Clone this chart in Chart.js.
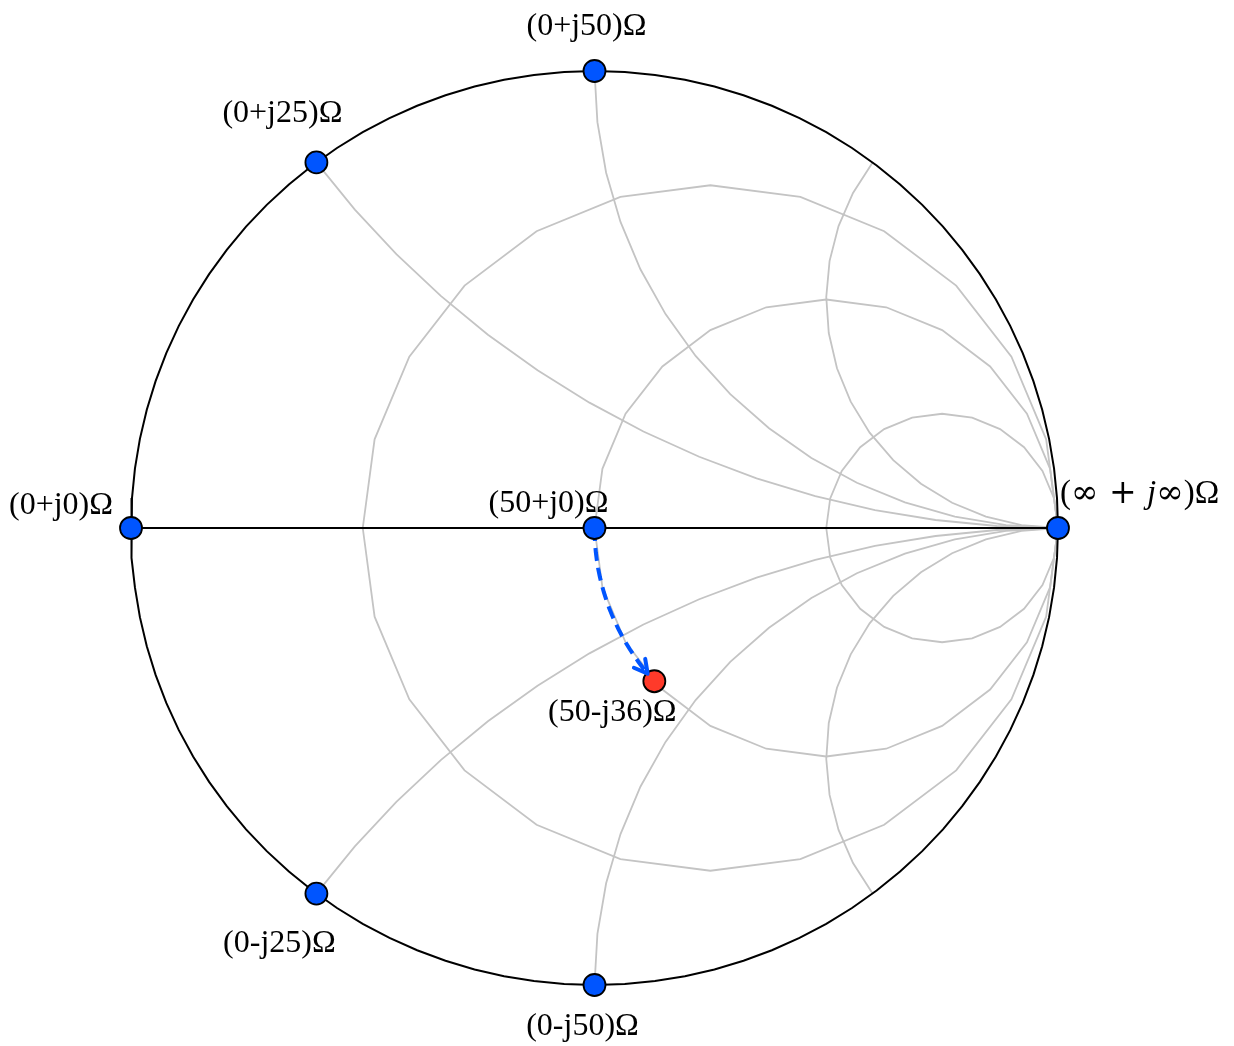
<!DOCTYPE html>
<html>
<head>
<meta charset="utf-8">
<script src="https://cdn.jsdelivr.net/npm/chart.js@4.4.1/dist/chart.umd.min.js"></script>
<style>
  html, body { margin: 0; padding: 0; background: #fff; }
  canvas { display: block; }
</style>
</head>
<body>
<canvas id="smithChart" width="1234" height="1046"></canvas>
<script>
// impedances in ohms, Z0 = 50
const z0 = 50;
const markerLabels = ['(0+j0)Ω', '(0+j25)Ω', '(0+j50)Ω', '(50+j0)Ω', '(0-j25)Ω', '(0-j50)Ω', '(∞ + j∞)Ω'];
const markerR = [0, 0, 0, 50, 0, 0, Infinity];
const markerX = [0, 25, 50, 0, -25, -50, Infinity];

// load point (label reads 50-j36, dot sits a bit lower on the r=1 circle)
const loadLabel = '(50-j36)Ω';
const loadR = 50;
const loadX = -38.5;
const arrowEndX = -36;

// grid values (ohms)
const gridResistances = [50 / 3, 50, 150];
const gridReactances = [25, 50, 100, -25, -50, -100];

function gamma(r, x) {
    if (!isFinite(r) || !isFinite(x)) return { x: 1, y: 0 };
    const a = r / z0, b = x / z0;
    // (z-1)/(z+1)
    const den = (a + 1) * (a + 1) + b * b;
    return { x: (a * a + b * b - 1) / den, y: (2 * b) / den };
}

function resistanceCircle(rOhm) {
    const r = rOhm / z0;
    const cx = r / (1 + r), rad = 1 / (1 + r);
    const pts = [];
    for (let k = 0; k <= 24; k++) {
        const a = Math.PI + k * Math.PI * 2 / 24;
        pts.push({ x: cx + rad * Math.cos(a), y: rad * Math.sin(a) });
    }
    return pts;
}

function reactanceArc(xOhm) {
    const xn = Math.abs(xOhm) / z0;
    const sign = xOhm < 0 ? -1 : 1;
    const cy = 1 / xn, rad = 1 / xn;
    const p = gamma(0, Math.abs(xOhm));
    let a0 = Math.atan2(p.y - cy, p.x - 1);
    if (a0 < Math.PI / 2) a0 += Math.PI * 2;
    const a1 = Math.PI * 1.5;
    const steps = 14;
    const pts = [];
    for (let k = 0; k <= steps; k++) {
        const a = a0 + (a1 - a0) * k / steps;
        pts.push({ x: 1 + rad * Math.cos(a), y: sign * (cy + rad * Math.sin(a)) });
    }
    return pts;
}

function outerCircle() {
    const pts = [];
    for (let k = 0; k <= 96; k++) {
        const a = k * Math.PI * 2 / 96;
        pts.push({ x: Math.cos(a), y: Math.sin(a) });
    }
    return pts;
}

function arrowPath() {
    const pts = [];
    for (let k = 0; k <= 20; k++) {
        pts.push(gamma(loadR, arrowEndX * k / 20));
    }
    return pts;
}

const gridColor = '#c4c4c4';
const blue = '#0055ff';
const red = '#ff3a2a';

const datasets = [];
gridResistances.forEach(r => datasets.push({
    data: resistanceCircle(r), showLine: true, pointRadius: 0,
    borderColor: gridColor, borderWidth: 1.8, tension: 0, clip: false, order: 4
}));
gridReactances.forEach(x => datasets.push({
    data: reactanceArc(x), showLine: true, pointRadius: 0,
    borderColor: gridColor, borderWidth: 1.8, tension: 0, clip: false, order: 4
}));
datasets.push({
    data: outerCircle(), showLine: true, pointRadius: 0,
    borderColor: '#000', borderWidth: 2, tension: 0, clip: false, order: 3
});
datasets.push({
    data: [gamma(0, 0), gamma(Infinity, 0)], showLine: true, pointRadius: 0,
    borderColor: '#000', borderWidth: 2, clip: false, order: 3
});
datasets.push({
    id: 'arrow',
    data: arrowPath(), showLine: true, pointRadius: 0,
    borderColor: blue, borderWidth: 4, borderDash: [13, 7], tension: 0, clip: false, order: 2
});
datasets.push({
    data: markerR.map((r, i) => gamma(r, markerX[i])),
    showLine: false, pointRadius: 11, pointBackgroundColor: blue,
    pointBorderColor: '#000', pointBorderWidth: 1.8, clip: false, order: 1
});
datasets.push({
    data: [gamma(loadR, loadX)],
    showLine: false, pointRadius: 11, pointBackgroundColor: red,
    pointBorderColor: '#000', pointBorderWidth: 1.8, clip: false, order: 1
});

const labelPlugin = {
    id: 'smithLabels',
    afterDatasetsDraw(chart) {
        const ctx = chart.ctx;
        const sx = chart.scales.x, sy = chart.scales.y;

        // arrow head
        const arrowMeta = chart.getDatasetMeta(datasets.findIndex(d => d.id === 'arrow'));
        const n = arrowMeta.data.length;
        const tip = arrowMeta.data[n - 1], prev = arrowMeta.data[n - 3];
        const ang = Math.atan2(tip.y - prev.y, tip.x - prev.x);
        ctx.save();
        ctx.strokeStyle = blue;
        ctx.lineWidth = 4;
        ctx.lineCap = 'round';
        ctx.beginPath();
        [0.5, -0.5].forEach(d => {
            ctx.moveTo(tip.x, tip.y);
            ctx.lineTo(tip.x - 15 * Math.cos(ang + d), tip.y - 15 * Math.sin(ang + d));
        });
        ctx.stroke();
        ctx.restore();

        const place = [
            { dx: -18, dy: -14, align: 'right' },
            { dx: -34, dy: -40, align: 'center' },
            { dx: -8, dy: -36, align: 'center' },
            { dx: -46, dy: -16, align: 'center' },
            { dx: -37, dy: 58, align: 'center' },
            { dx: -12, dy: 50, align: 'center' },
            { dx: 2, dy: -25, align: 'left' }
        ];
        const font = '32px "Liberation Serif"';
        ctx.save();
        ctx.fillStyle = '#000';
        ctx.textBaseline = 'alphabetic';
        ctx.font = font;
        markerLabels.forEach((lab, i) => {
            const g = gamma(markerR[i], markerX[i]);
            const px = sx.getPixelForValue(g.x) + place[i].dx;
            const py = sy.getPixelForValue(g.y) + place[i].dy;
            if (i === 6) {
                // (∞ + j∞)Ω with italic j, math-style spacing
                const parts = [
                    ['(', '33px "Liberation Serif"'],
                    ['∞', '33px "DejaVu Serif"'],
                    [' + ', '33px "DejaVu Serif"'],
                    ['j', 'italic 33px "Liberation Serif"'],
                    ['∞', '33px "DejaVu Serif"'],
                    [')Ω', '33px "Liberation Serif"']
                ];
                let cx = px;
                ctx.textAlign = 'left';
                parts.forEach(([t, f]) => {
                    ctx.font = f;
                    ctx.fillText(t, cx, py);
                    cx += ctx.measureText(t).width;
                });
                ctx.font = font;
            } else {
                ctx.textAlign = place[i].align;
                ctx.fillText(lab, px, py);
            }
        });
        const lg = gamma(loadR, loadX);
        ctx.textAlign = 'center';
        ctx.fillText(loadLabel, sx.getPixelForValue(lg.x) - 42, sy.getPixelForValue(lg.y) + 40);
        ctx.restore();
    }
};

new Chart(document.getElementById('smithChart'), {
    type: 'scatter',
    data: { datasets: datasets },
    options: {
        responsive: false,
        animation: false,
        devicePixelRatio: 1,
        layout: { padding: { left: 131, right: 176, top: 71, bottom: 61 } },
        scales: {
            x: { type: 'linear', min: -1, max: 1, display: false },
            y: { type: 'linear', min: -1, max: 1, display: false }
        },
        plugins: {
            legend: { display: false },
            tooltip: { enabled: false }
        },
        elements: { line: { fill: false } }
    },
    plugins: [labelPlugin]
});
</script>
</body>
</html>
